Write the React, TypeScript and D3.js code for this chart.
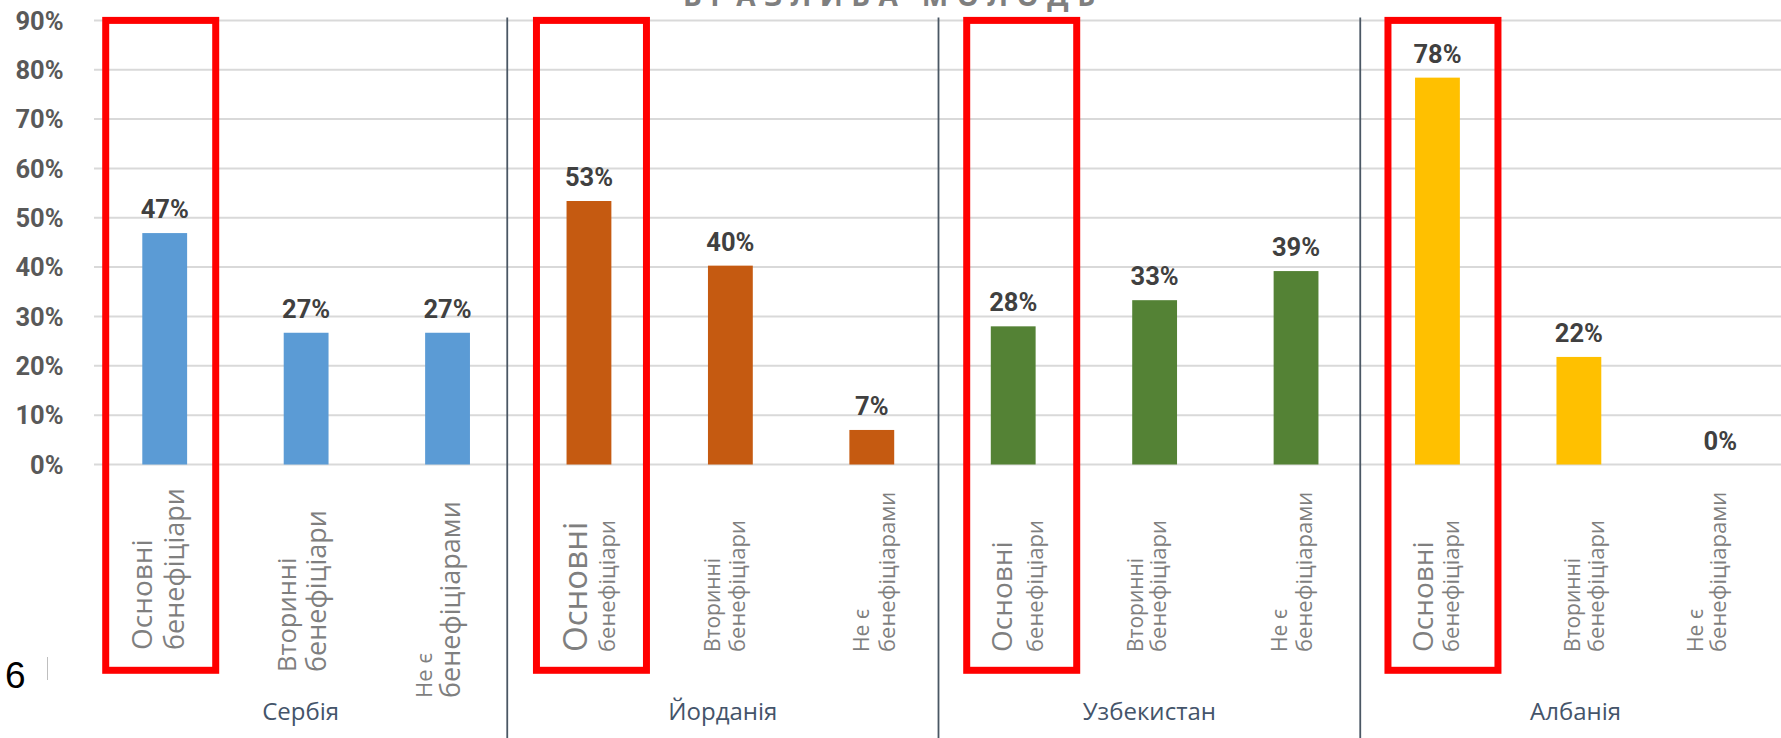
import React from "react";
import * as d3 from "d3";

// ---------- data ----------
const countries = ["Сербія", "Йорданія", "Узбекистан", "Албанія"];
const typeLines = [
  ["Основні", "бенефіціари"],
  ["Вторинні", "бенефіціари"],
  ["Не є", "бенефіціарами"],
];
const serbiaValues = [46.9, 26.7, 26.7];
const jordanValues = [53.4, 40.3, 7.0];
const uzbekistanValues = [28.0, 33.3, 39.2];
const albaniaValues = [78.4, 21.8, 0];
const yTickValues = [0, 10, 20, 30, 40, 50, 60, 70, 80, 90];
const titleText = "ВРАЗЛИВА МОЛОДЬ";
const slideNumber = "6";

// ---------- styles / layout ----------
const W = 1781;
const H = 738;
const plot = { left: 94, right: 1791, top: 20.4, bottom: 464.5 };
const countryColors = ["#5B9BD5", "#C55A11", "#548235", "#FFC000"];
const labelFont = "'Open Sans', 'Noto Sans', sans-serif";
const numFont = "Roboto, 'Noto Sans', sans-serif";
// per country, per beneficiary type: font sizes, baseline nudges, bottom anchor
const labelStyle = [
  [
    { s1: 28, s2: 27, d1: -13, d2: 19, bottom: 650 },
    { s1: 25.5, s2: 27, d1: -10, d2: 20, bottom: 672 },
    { s1: 22, s2: 27, d1: -16, d2: 12, bottom: 698 },
  ],
  [
    { s1: 33, s2: 22, d1: -2, d2: 26, bottom: 652 },
    { s1: 21, s2: 22, d1: -10, d2: 15, bottom: 652 },
    { s1: 21, s2: 22, d1: -3, d2: 23, bottom: 652 },
  ],
  [
    { s1: 28, s2: 22, d1: -1, d2: 30, bottom: 652 },
    { s1: 21, s2: 22, d1: -12, d2: 11, bottom: 652 },
    { s1: 21, s2: 22, d1: -9, d2: 16, bottom: 652 },
  ],
  [
    { s1: 28, s2: 22, d1: -4, d2: 22, bottom: 652 },
    { s1: 21, s2: 22, d1: 1, d2: 25, bottom: 652 },
    { s1: 21, s2: 22, d1: -17, d2: 6, bottom: 652 },
  ],
];
const highlightNudge = [-4, 2.5, 8.5, 5.5];
const separatorNudge = [-11, -4, -6.5];

export default function App() {
  const valuesByCountry = [serbiaValues, jordanValues, uzbekistanValues, albaniaValues];
  const rows = countries.flatMap((c, ci) =>
    valuesByCountry[ci].map((v, ti) => ({ key: `${ci}-${ti}`, ci, ti, v }))
  );

  const x = d3
    .scaleBand<string>()
    .domain(rows.map((r) => r.key))
    .range([plot.left, plot.right])
    .paddingInner(0.683)
    .paddingOuter(0.3415);
  const y = d3.scaleLinear().domain([0, 90]).range([plot.bottom, plot.top]);
  const bw = x.bandwidth();
  const cx = (key: string) => (x(key) as number) + bw / 2;

  const separators = countries
    .slice(0, -1)
    .map((_, g) => cx(`${g}-2`) + x.step() / 2 + separatorNudge[g]);
  const bounds = [plot.left, ...separators, plot.right];

  return (
    <svg
      width={W}
      height={H}
      style={{ position: "absolute", left: 0, top: 0, background: "#fff" }}
    >
      <rect x={0} y={0} width={W} height={H} fill="#fff" />
      {/* title (clipped at top) */}
      <text
        x={889}
        y={5.5}
        textAnchor="middle"
        fontFamily={labelFont}
        fontWeight={700}
        fontSize={28}
        textLength={412}
        lengthAdjust="spacing"
        fill="#7F7F7F"
      >
        {titleText}
      </text>

      {/* gridlines */}
      {yTickValues.map((t) => (
        <line
          key={t}
          x1={plot.left}
          x2={plot.right}
          y1={y(t)}
          y2={y(t)}
          stroke="#D9D9D9"
          strokeWidth={2}
        />
      ))}

      {/* y tick labels */}
      {yTickValues.map((t) => (
        <text
          key={t}
          x={63.5}
          y={y(t)}
          dy="0.36em"
          textAnchor="end"
          fontFamily={numFont}
          fontWeight={700}
          fontSize={25.5}
          fill="#595959"
        >
          {`${t}%`}
        </text>
      ))}

      {/* group separators */}
      {separators.map((sx, i) => (
        <line
          key={i}
          x1={sx}
          x2={sx}
          y1={y(90) - 3}
          y2={H}
          stroke="#4A5764"
          strokeWidth={1.8}
        />
      ))}

      {/* bars */}
      {rows.map((r) => (
        <rect
          key={r.key}
          x={x(r.key)}
          y={y(r.v)}
          width={bw}
          height={y(0) - y(r.v)}
          fill={countryColors[r.ci]}
        />
      ))}

      {/* data labels */}
      {rows.map((r) => (
        <text
          key={r.key}
          x={cx(r.key)}
          y={y(r.v) - 15}
          textAnchor="middle"
          fontFamily={numFont}
          fontWeight={700}
          fontSize={25.5}
          fill="#404040"
        >
          {`${Math.round(r.v)}%`}
        </text>
      ))}

      {/* highlight rectangles */}
      {countries.map((c, ci) => {
        const center = cx(`${ci}-0`) + highlightNudge[ci];
        return (
          <rect
            key={c}
            x={center - 55}
            y={y(90)}
            width={110}
            height={670.3 - y(90)}
            fill="none"
            stroke="#FF0000"
            strokeWidth={7}
          />
        );
      })}

      {/* category labels (rotated) */}
      {rows.map((r) => {
        const st = labelStyle[r.ci][r.ti];
        const c = cx(r.key);
        const [l1, l2] = typeLines[r.ti];
        return (
          <g key={r.key} fill="#7F7F7F" fontFamily={labelFont}>
            <text
              transform={`translate(${c + st.d1},${st.bottom}) rotate(-90)`}
              fontSize={st.s1}
            >
              {l1}
            </text>
            <text
              transform={`translate(${c + st.d2},${st.bottom}) rotate(-90)`}
              fontSize={st.s2}
            >
              {l2}
            </text>
          </g>
        );
      })}

      {/* group labels */}
      {countries.map((c, ci) => (
        <text
          key={c}
          x={(bounds[ci] + bounds[ci + 1]) / 2}
          y={720}
          textAnchor="middle"
          fontFamily={labelFont}
          fontSize={24}
          fill="#44546A"
        >
          {c}
        </text>
      ))}

      {/* slide number */}
      <line x1={47.5} x2={47.5} y1={657} y2={680} stroke="#BFBFBF" strokeWidth={1} />
      <text
        x={5}
        y={688}
        fontFamily="'Liberation Sans', Arial, sans-serif"
        fontSize={37}
        fill="#000"
      >
        {slideNumber}
      </text>
    </svg>
  );
}
